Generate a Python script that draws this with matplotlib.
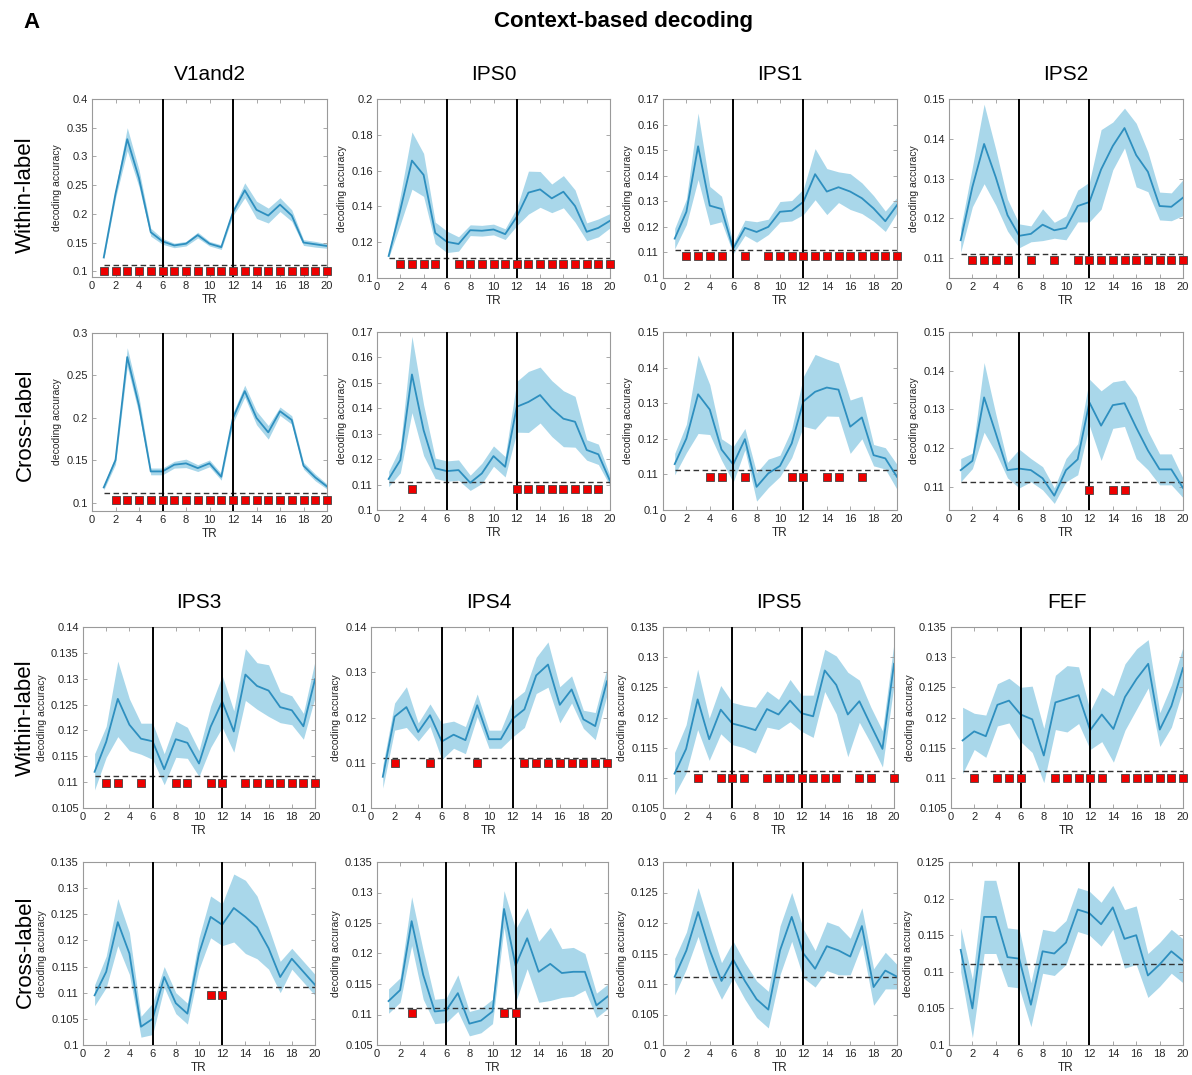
import matplotlib
matplotlib.use("Agg")
import matplotlib.pyplot as plt
import numpy as np
from matplotlib.ticker import FuncFormatter

plt.rcParams['font.family'] = ['Liberation Sans', 'DejaVu Sans']

tr = np.arange(1, 21)
chance = 1 / 9

# ---- mean decoding accuracy, SEM and significant TRs per ROI ----
v1_within = [0.124, 0.235, 0.330, 0.262, 0.168, 0.152, 0.145, 0.148, 0.163, 0.148,
             0.142, 0.203, 0.241, 0.207, 0.197, 0.216, 0.197, 0.150, 0.147, 0.144]
v1_within_sem = [0.003, 0.008, 0.020, 0.015, 0.007, 0.005, 0.004, 0.004, 0.005, 0.004,
                 0.004, 0.006, 0.013, 0.015, 0.013, 0.012, 0.010, 0.005, 0.005, 0.004]
v1_within_sig = list(range(1, 21))

ips0_within = [0.1123, 0.138, 0.1656, 0.1576, 0.1252, 0.1202, 0.119, 0.1267, 0.1264, 0.1271,
               0.1245, 0.1342, 0.1477, 0.1495, 0.1445, 0.1482, 0.1402, 0.1258, 0.128, 0.132]
ips0_within_sem = [0.001, 0.008, 0.016, 0.012, 0.006, 0.006, 0.004, 0.003, 0.003, 0.003,
                   0.003, 0.005, 0.012, 0.010, 0.008, 0.009, 0.009, 0.005, 0.005, 0.004]
ips0_within_sig = [2, 3, 4, 5, 7, 8, 9, 10, 11, 12, 13, 14, 15, 16, 17, 18, 19, 20]

ips1_within = [0.1154, 0.1259, 0.1515, 0.1283, 0.127, 0.1115, 0.1196, 0.118, 0.120, 0.1259,
               0.1263, 0.1298, 0.1406, 0.1338, 0.1355, 0.1338, 0.1312, 0.1272, 0.1222, 0.1285]
ips1_within_sem = [0.004, 0.005, 0.013, 0.0075, 0.005, 0.002, 0.003, 0.004, 0.003, 0.004,
                   0.004, 0.005, 0.010, 0.009, 0.006, 0.007, 0.006, 0.005, 0.004, 0.003]
ips1_within_sig = [2, 3, 4, 5, 7, 9, 10, 11, 12, 13, 14, 15, 16, 17, 18, 19, 20]

ips2_within = [0.1145, 0.1279, 0.1387, 0.1303, 0.1208, 0.1156, 0.1161, 0.1184, 0.117, 0.1176,
               0.1231, 0.1241, 0.1323, 0.1382, 0.1427, 0.1359, 0.1317, 0.1231, 0.1229, 0.1252]
ips2_within_sem = [0.003, 0.005, 0.010, 0.007, 0.004, 0.003, 0.002, 0.004, 0.002, 0.003,
                   0.004, 0.005, 0.010, 0.006, 0.005, 0.008, 0.005, 0.0035, 0.0035, 0.0045]
ips2_within_sig = [2, 3, 4, 5, 7, 9, 11, 12, 13, 14, 15, 16, 17, 18, 19, 20]

v1_cross = [0.1178, 0.150, 0.2716, 0.2144, 0.1367, 0.1367, 0.1446, 0.1462, 0.1406, 0.1462,
            0.1304, 0.1998, 0.2314, 0.1998, 0.1828, 0.2077, 0.1974, 0.1434, 0.1296, 0.1189]
v1_cross_sem = [0.003, 0.005, 0.011, 0.010, 0.004, 0.004, 0.004, 0.005, 0.004, 0.004,
                0.004, 0.006, 0.007, 0.008, 0.008, 0.005, 0.005, 0.004, 0.004, 0.003]
v1_cross_sig = list(range(2, 21))

ips0_cross = [0.1122, 0.1196, 0.1533, 0.1314, 0.1164, 0.1153, 0.1157, 0.1107, 0.1144, 0.1212,
              0.117, 0.1406, 0.1425, 0.1452, 0.1399, 0.1359, 0.1347, 0.1236, 0.1219, 0.1115]
ips0_cross_sem = [0.003, 0.005, 0.015, 0.010, 0.004, 0.004, 0.004, 0.003, 0.004, 0.004,
                  0.004, 0.010, 0.012, 0.011, 0.011, 0.011, 0.010, 0.004, 0.004, 0.002]
ips0_cross_sig = [3, 12, 13, 14, 15, 16, 17, 18, 19]

ips1_cross = [0.1129, 0.1201, 0.1325, 0.1282, 0.117, 0.1128, 0.1199, 0.1065, 0.1103, 0.1124,
              0.1187, 0.1305, 0.1332, 0.1344, 0.1338, 0.1234, 0.126, 0.1154, 0.1145, 0.1093]
ips1_cross_sem = [0.003, 0.004, 0.011, 0.007, 0.003, 0.005, 0.003, 0.004, 0.004, 0.003,
                  0.004, 0.007, 0.0105, 0.008, 0.0075, 0.0075, 0.006, 0.003, 0.003, 0.0035]
ips1_cross_sig = [4, 5, 7, 11, 12, 14, 15, 17]

ips2_cross = [0.1143, 0.1167, 0.1331, 0.1238, 0.1143, 0.1147, 0.1143, 0.1122, 0.1077, 0.1143,
              0.1171, 0.1318, 0.1258, 0.1311, 0.1316, 0.1253, 0.1194, 0.1145, 0.1145, 0.1097]
ips2_cross_sem = [0.003, 0.002, 0.009, 0.005, 0.002, 0.005, 0.003, 0.003, 0.002, 0.003,
                  0.004, 0.006, 0.009, 0.006, 0.006, 0.008, 0.005, 0.004, 0.004, 0.0025]
ips2_cross_sig = [12, 14, 15]

ips3_within = [0.112, 0.1178, 0.1261, 0.1211, 0.1184, 0.1179, 0.1125, 0.1183, 0.1176, 0.1136,
               0.1207, 0.1256, 0.1198, 0.1308, 0.1286, 0.1277, 0.1245, 0.1239, 0.1208, 0.1299]
ips3_within_sem = [0.0035, 0.003, 0.0073, 0.005, 0.003, 0.0035, 0.003, 0.0035, 0.003, 0.0025,
                   0.004, 0.005, 0.004, 0.005, 0.0045, 0.005, 0.003, 0.0028, 0.0025, 0.0035]
ips3_within_sig = [2, 3, 5, 8, 9, 11, 12, 14, 15, 16, 17, 18, 19, 20]

ips4_within = [0.1069, 0.1202, 0.1223, 0.1168, 0.1205, 0.1147, 0.1162, 0.115, 0.1227, 0.1152,
               0.1152, 0.1197, 0.1218, 0.1293, 0.1317, 0.1228, 0.1262, 0.1196, 0.1181, 0.128]
ips4_within_sem = [0.0025, 0.003, 0.0045, 0.002, 0.0025, 0.004, 0.003, 0.003, 0.0025, 0.002,
                   0.002, 0.004, 0.004, 0.004, 0.005, 0.004, 0.003, 0.002, 0.003, 0.003]
ips4_within_sig = [2, 5, 9, 13, 14, 15, 16, 17, 18, 19, 20]

ips5_within = [0.1107, 0.1148, 0.123, 0.1164, 0.1213, 0.119, 0.1185, 0.1179, 0.1214, 0.1205,
               0.1228, 0.1207, 0.1202, 0.1278, 0.1254, 0.1205, 0.1227, 0.1187, 0.1148, 0.1289]
ips5_within_sem = [0.0035, 0.004, 0.005, 0.0035, 0.004, 0.0035, 0.0035, 0.0038, 0.003, 0.0025,
                   0.0035, 0.003, 0.0035, 0.0035, 0.0048, 0.007, 0.0035, 0.003, 0.003, 0.0035]
ips5_within_sig = [3, 5, 6, 7, 9, 10, 11, 12, 13, 14, 15, 17, 18, 20]

fef_within = [0.1162, 0.1177, 0.1169, 0.1221, 0.1228, 0.1205, 0.1197, 0.1137, 0.1225, 0.1231,
              0.1237, 0.1179, 0.1205, 0.1181, 0.1234, 0.1264, 0.1289, 0.118, 0.1219, 0.1282]
fef_within_sem = [0.0055, 0.003, 0.0035, 0.0035, 0.0037, 0.0045, 0.0055, 0.0045, 0.0045, 0.0055,
                  0.0047, 0.0032, 0.0045, 0.0055, 0.0055, 0.005, 0.004, 0.0028, 0.0035, 0.0035]
fef_within_sig = [2, 4, 5, 6, 9, 10, 11, 12, 13, 15, 16, 17, 18, 19, 20]

ips3_cross = [0.1095, 0.114, 0.1235, 0.1175, 0.1035, 0.105, 0.113, 0.108, 0.106, 0.1175,
              0.1245, 0.123, 0.1262, 0.1245, 0.1225, 0.1185, 0.113, 0.1165, 0.114, 0.1115]
ips3_cross_sem = [0.002, 0.003, 0.0045, 0.004, 0.002, 0.003, 0.002, 0.002, 0.002, 0.003,
                  0.004, 0.004, 0.0065, 0.007, 0.006, 0.004, 0.003, 0.002, 0.002, 0.002]
ips3_cross_sig = [11, 12]

ips4_cross = [0.1122, 0.114, 0.1253, 0.1165, 0.1105, 0.1107, 0.1135, 0.1085, 0.109, 0.1105,
              0.1273, 0.118, 0.1225, 0.117, 0.1183, 0.1168, 0.117, 0.117, 0.1115, 0.113]
ips4_cross_sem = [0.002, 0.002, 0.004, 0.004, 0.002, 0.002, 0.003, 0.002, 0.002, 0.002,
                  0.003, 0.006, 0.005, 0.005, 0.006, 0.004, 0.004, 0.003, 0.002, 0.002]
ips4_cross_sig = [3, 11, 12]

ips5_cross = [0.1112, 0.1155, 0.1218, 0.1155, 0.1105, 0.114, 0.1105, 0.1075, 0.1058, 0.1155,
              0.121, 0.115, 0.1125, 0.1162, 0.1155, 0.1145, 0.1195, 0.1095, 0.1122, 0.1112]
ips5_cross_sem = [0.003, 0.003, 0.004, 0.004, 0.003, 0.003, 0.003, 0.003, 0.003, 0.004,
                  0.004, 0.004, 0.003, 0.004, 0.004, 0.003, 0.003, 0.003, 0.003, 0.002]
ips5_cross_sig = []

fef_cross = [0.113, 0.105, 0.1175, 0.1175, 0.112, 0.1118, 0.1055, 0.1128, 0.1125, 0.114,
             0.1185, 0.118, 0.1165, 0.1188, 0.1145, 0.115, 0.1095, 0.111, 0.1128, 0.1115]
fef_cross_sem = [0.003, 0.004, 0.005, 0.005, 0.004, 0.004, 0.003, 0.003, 0.003, 0.003,
                 0.003, 0.003, 0.003, 0.003, 0.004, 0.004, 0.003, 0.003, 0.003, 0.003]
fef_cross_sig = []

# y-axis ranges, tick steps and marker height for significance squares
panels = [
    # name, mean, sem, sig, ylim, ystep, sig_y, box (left, top, right, bottom px)
    (v1_within, v1_within_sem, v1_within_sig, (0.09, 0.4), 0.05, 0.1, (92, 99, 327, 277)),
    (ips0_within, ips0_within_sem, ips0_within_sig, (0.1, 0.2), 0.02, 0.108, (377, 99, 610, 278)),
    (ips1_within, ips1_within_sem, ips1_within_sig, (0.1, 0.17), 0.01, 0.1086, (663, 99, 897, 278)),
    (ips2_within, ips2_within_sem, ips2_within_sig, (0.105, 0.15), 0.01, 0.1094, (949, 99, 1183, 278)),
    (v1_cross, v1_cross_sem, v1_cross_sig, (0.09, 0.3), 0.05, 0.1032, (92, 333, 327, 511)),
    (ips0_cross, ips0_cross_sem, ips0_cross_sig, (0.1, 0.17), 0.01, 0.1082, (377, 332, 610, 510)),
    (ips1_cross, ips1_cross_sem, ips1_cross_sig, (0.1, 0.15), 0.01, 0.1093, (663, 332, 897, 510)),
    (ips2_cross, ips2_cross_sem, ips2_cross_sig, (0.104, 0.15), 0.01, 0.1091, (949, 332, 1183, 510)),
    (ips3_within, ips3_within_sem, ips3_within_sig, (0.105, 0.14), 0.005, 0.1098, (83, 627, 315, 808)),
    (ips4_within, ips4_within_sem, ips4_within_sig, (0.1, 0.14), 0.01, 0.1099, (371, 627, 607, 808)),
    (ips5_within, ips5_within_sem, ips5_within_sig, (0.105, 0.135), 0.005, 0.11, (663, 627, 894, 808)),
    (fef_within, fef_within_sem, fef_within_sig, (0.105, 0.135), 0.005, 0.11, (951, 627, 1183, 808)),
    (ips3_cross, ips3_cross_sem, ips3_cross_sig, (0.1, 0.135), 0.005, 0.1095, (83, 862, 315, 1045)),
    (ips4_cross, ips4_cross_sem, ips4_cross_sig, (0.105, 0.135), 0.005, 0.1102, (377, 862, 608, 1045)),
    (ips5_cross, ips5_cross_sem, ips5_cross_sig, (0.1, 0.13), 0.005, None, (663, 862, 897, 1045)),
    (fef_cross, fef_cross_sem, fef_cross_sig, (0.1, 0.125), 0.005, None, (949, 862, 1183, 1045)),
]

roi_titles = ['V1and2', 'IPS0', 'IPS1', 'IPS2', 'IPS3', 'IPS4', 'IPS5', 'FEF']

W, H = 1192, 1075
fig = plt.figure(figsize=(W / 100, H / 100), dpi=100)

line_col = '#2e8fbf'
fill_col = '#a9d7ea'
frame_col = '#9a9a9a'
text_col = '#262626'
fmt = FuncFormatter(lambda v, p: '%g' % round(v, 4))

axes = []
for mean, sem, sig, ylim, ystep, sig_y, box in panels:
    l, t, r, b = box
    ax = fig.add_axes([l / W, 1 - b / H, (r - l) / W, (b - t) / H])
    mean = np.array(mean)
    sem = np.array(sem)
    ax.fill_between(tr, mean - sem, mean + sem, color=fill_col, lw=0, zorder=1)
    ax.plot(tr, mean, color=line_col, lw=1.3, zorder=3)
    ax.axvline(6, color='black', lw=1.4, zorder=4)
    ax.axvline(12, color='black', lw=1.4, zorder=4)
    ax.plot([1, 20], [chance, chance], ls=(0, (4, 2.5)), color='#333333', lw=1, zorder=2)
    if sig:
        ax.plot(sig, [sig_y] * len(sig), 's', ms=5.2, mfc='#ee0000', mec='#444444',
                mew=0.6, ls='none', zorder=5, clip_on=False)
    ax.set_xlim(0, 20)
    ax.set_ylim(*ylim)
    ax.set_xticks(np.arange(0, 21, 2))
    first = np.ceil(ylim[0] / ystep - 1e-6) * ystep
    ax.set_yticks(np.arange(first, ylim[1] + ystep * 0.01, ystep))
    ax.yaxis.set_major_formatter(fmt)
    ax.tick_params(direction='in', top=True, right=True, length=3, width=0.6,
                   labelsize=8, colors=text_col, color=frame_col, pad=3)
    for s in ax.spines.values():
        s.set_color(frame_col)
        s.set_linewidth(0.8)
    ax.set_xlabel('TR', fontsize=8.5, color=text_col, labelpad=2)
    ax.set_ylabel('decoding accuracy', fontsize=7.5, color=text_col, labelpad=3)
    axes.append(ax)

# column titles above the first and third rows
for i, name in enumerate(roi_titles):
    ax = axes[i] if i < 4 else axes[i + 4]
    ax.set_title(name, fontsize=15, pad=14, color='black')

# row labels
for y, lab in [(195, 'Within-label'), (425, 'Cross-label'), (718, 'Within-label'), (952, 'Cross-label')]:
    fig.text(25 / W, 1 - y / H, lab, rotation=90, fontsize=16, ha='center', va='center')

fig.text(32 / W, 1 - 22 / H, 'A', fontsize=16, fontweight='bold', ha='center', va='center')
fig.text(623 / W, 1 - 22 / H, 'Context-based decoding', fontsize=16, fontweight='bold',
         ha='center', va='center')

fig.savefig('out.png', dpi=100)
